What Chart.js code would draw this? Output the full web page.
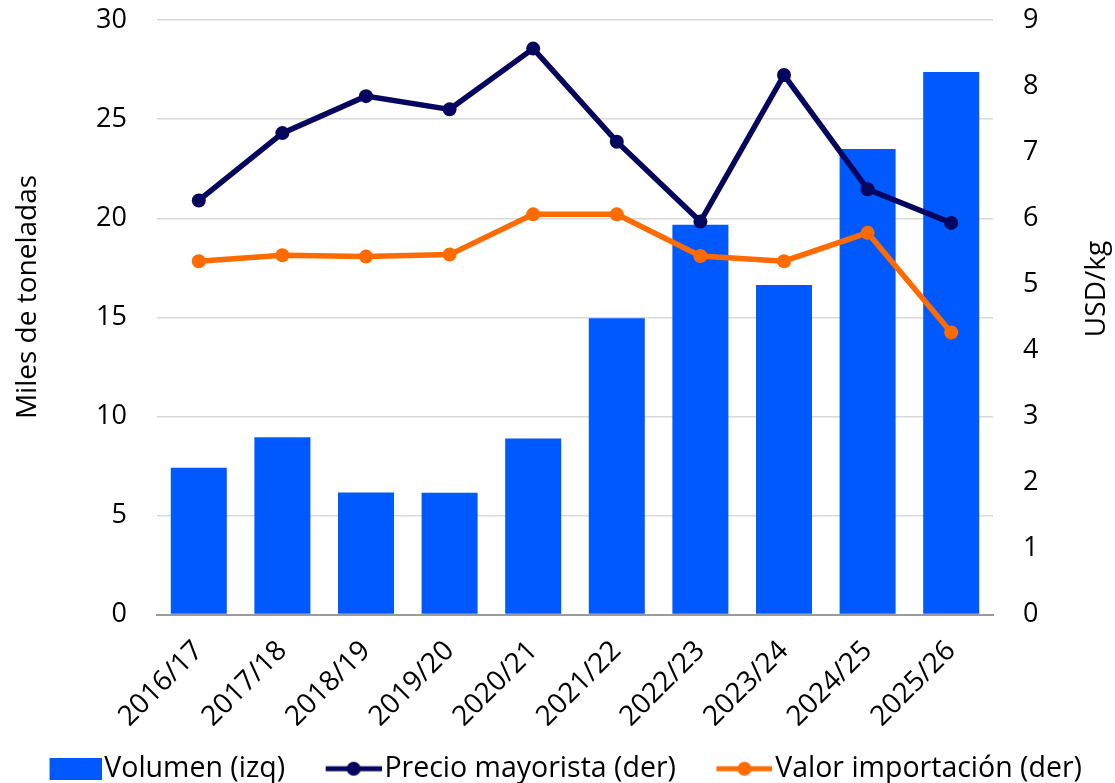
<!DOCTYPE html>
<html>
<head>
<meta charset="utf-8">
<script src="https://cdn.jsdelivr.net/npm/chart.js@4.4.1/dist/chart.umd.min.js"></script>
<style>
html,body{margin:0;padding:0;background:#fff;}
#wrap{width:1115px;height:783px;position:relative;}
</style>
</head>
<body>
<div id="wrap"><canvas id="c" width="1115" height="783"></canvas></div>
<script>
const categories = ["2016/17","2017/18","2018/19","2019/20","2020/21","2021/22","2022/23","2023/24","2024/25","2025/26"];
const volumen = [7.41, 8.95, 6.16, 6.15, 8.89, 14.95, 19.68, 16.63, 23.5, 27.39];
const precioMayorista = [6.27, 7.29, 7.85, 7.65, 8.57, 7.16, 5.95, 8.17, 6.44, 5.93];
const valorImportacion = [5.35, 5.44, 5.42, 5.45, 6.06, 6.06, 5.43, 5.35, 5.78, 4.27];
const seriesNames = ["Volumen (izq)", "Precio mayorista (der)", "Valor importación (der)"];
const leftAxisTitle = "Miles de toneladas";
const rightAxisTitle = "USD/kg";

const BLUE = "#0059FF", NAVY = "#06065F", ORANGE = "#FF6B00";
const FONT = "'Open Sans', 'Noto Sans', sans-serif";
const FS = 28;      // titles
const LFS = 28.5;   // legend
const TFS = 27;     // y tick labels
const XFS = 28;     // x tick labels

// legend icons: transparent left part gives spacing between items
const BW = 85, IW = Math.round(BW + LFS - 6);
function rectIcon(color){
  const c = document.createElement('canvas'); c.width = IW; c.height = 22;
  const x = c.getContext('2d'); x.fillStyle = color; x.fillRect(IW-52,0,52,22); return c;
}
function lineIcon(color){
  const c = document.createElement('canvas'); c.width = IW; c.height = 16;
  const x = c.getContext('2d'); x.strokeStyle = color; x.lineWidth = 5;
  x.beginPath(); x.moveTo(IW-56,8); x.lineTo(IW,8); x.stroke();
  x.fillStyle = color; x.beginPath(); x.arc(IW-28,8,7,0,Math.PI*2); x.fill(); return c;
}
const icons = [rectIcon(BLUE), lineIcon(NAVY), lineIcon(ORANGE)];

const axisTitles = {
  id: 'axisTitles',
  afterLayout(chart){
    if (chart.legend) { chart.legend.left -= 14; chart.legend.right -= 14; }
  },
  afterDraw(chart){
    const ctx = chart.ctx;
    [[leftAxisTitle, 28, 297], [rightAxisTitle, 1097, 289]].forEach(([t, x, y]) => {
      ctx.save();
      ctx.fillStyle = '#000';
      ctx.font = FS + "px " + FONT;
      ctx.textAlign = 'center';
      ctx.textBaseline = 'middle';
      ctx.translate(x, y); ctx.rotate(-Math.PI/2); ctx.fillText(t, 0, 0);
      ctx.restore();
    });
  }
};

new Chart(document.getElementById('c'), {
  data: {
    labels: categories,
    datasets: [
      { type:'bar', label: seriesNames[0], data: volumen, backgroundColor: BLUE, yAxisID:'y', order: 3,
        barPercentage: 0.67, categoryPercentage: 1.0 },
      { type:'line', label: seriesNames[1], data: precioMayorista, borderColor: NAVY, backgroundColor: NAVY,
        borderWidth: 5.5, pointRadius: 7, pointHoverRadius: 7, pointBackgroundColor: NAVY, pointBorderWidth: 0,
        yAxisID:'y1', order: 1, tension: 0 },
      { type:'line', label: seriesNames[2], data: valorImportacion, borderColor: ORANGE, backgroundColor: ORANGE,
        borderWidth: 5.5, pointRadius: 7, pointHoverRadius: 7, pointBackgroundColor: ORANGE, pointBorderWidth: 0,
        yAxisID:'y1', order: 2, tension: 0 }
    ]
  },
  plugins: [axisTitles],
  options: {
    responsive: false,
    animation: false,
    layout: { padding: { top: 0, left: 0, right: 0, bottom: -10 } },
    plugins: {
      tooltip: { enabled: false },
      legend: {
        position: 'bottom',
        labels: {
          font: { family: FONT, size: LFS },
          color: '#000',
          usePointStyle: true,
          pointStyleWidth: BW,
          boxHeight: 22,
          padding: 0,
          sort: (a,b) => a.datasetIndex - b.datasetIndex,
          generateLabels: (chart) => {
            const items = Chart.defaults.plugins.legend.labels.generateLabels(chart);
            items.forEach(it => { it.pointStyle = icons[it.datasetIndex]; it.rotation = 0; });
            return items;
          }
        }
      }
    },
    scales: {
      x: {
        grid: { display: false, drawTicks: false },
        border: { display: true, color: '#9a9a9a', width: 2 },
        ticks: { font: { family: FONT, size: XFS }, color: '#000', minRotation: 45, maxRotation: 45, padding: 20 },
        afterFit: (s) => { s.height = 140; }
      },
      y: {
        position: 'left', min: 0, max: 30,
        ticks: { stepSize: 5, font: { family: FONT, size: TFS }, color: '#000', padding: 4 },
        grid: { color: (ctx) => ctx.tick && ctx.tick.value === 0 ? 'rgba(0,0,0,0)' : '#d9d9d9', lineWidth: 1.5,
                drawTicks: true, tickLength: 26, tickColor: 'rgba(0,0,0,0)' },
        border: { display: false },
        afterFit: (s) => { s.width = 157; }
      },
      y1: {
        position: 'right', min: 0, max: 9,
        ticks: { stepSize: 1, font: { family: FONT, size: TFS }, color: '#000', padding: 4 },
        grid: { display: false, drawTicks: true, tickLength: 26, tickColor: 'rgba(0,0,0,0)' },
        border: { display: false },
        afterFit: (s) => { s.width = 122; }
      }
    }
  }
});
</script>
</body>
</html>
